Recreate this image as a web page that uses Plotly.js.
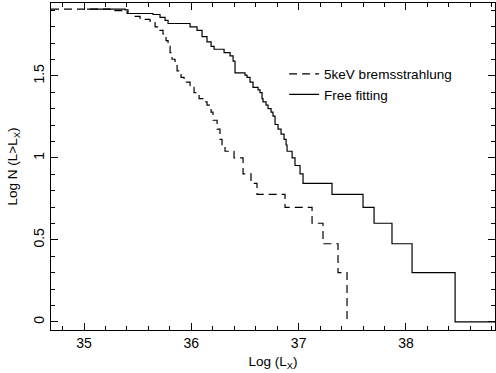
<!DOCTYPE html>
<html>
<head>
<meta charset="utf-8">
<script src="https://cdn.plot.ly/plotly-3.0.1.min.js"></script>
<style>html,body{margin:0;padding:0;background:#fff;}#chart{width:496px;height:373px;}</style>
</head>
<body>
<div id="chart"></div>
<script>
// Series 1: 5keV bremsstrahlung  (left edge of each step in Log L_X, level Log N(>L_X))
const bremLogL = [34.692, 35.242, 35.401, 35.457, 35.522, 35.615, 35.662, 35.708, 35.736, 35.764,
  35.783, 35.802, 35.820, 35.848, 35.867, 35.904, 35.932, 35.988, 36.025, 36.072,
  36.118, 36.146, 36.184, 36.202, 36.240, 36.267, 36.286, 36.314, 36.398, 36.482,
  36.556, 36.612, 36.873, 37.125, 37.227, 37.367, 37.451];
const bremLogN = [1.908, 1.898, 1.881, 1.863, 1.845, 1.826, 1.799, 1.778, 1.756, 1.716,
  1.681, 1.643, 1.602, 1.568, 1.531, 1.491, 1.462, 1.431, 1.398, 1.362,
  1.342, 1.322, 1.279, 1.230, 1.176, 1.114, 1.079, 1.041, 1.000, 0.903,
  0.845, 0.778, 0.699, 0.602, 0.477, 0.301, 0.000];

// Series 2: Free fitting
const freeLogL = [35.028, 35.382, 35.410, 35.643, 35.708, 35.755, 35.783, 35.988, 36.053, 36.100,
  36.146, 36.184, 36.212, 36.305, 36.361, 36.389, 36.407, 36.500, 36.519, 36.547,
  36.575, 36.622, 36.640, 36.659, 36.668, 36.696, 36.715, 36.743, 36.761, 36.780,
  36.808, 36.836, 36.864, 36.883, 36.892, 36.939, 36.966, 37.013, 37.041, 37.311,
  37.600, 37.703, 37.870, 38.057, 38.458, 38.900];
const freeLogN = [1.908, 1.903, 1.881, 1.875, 1.857, 1.839, 1.820, 1.799, 1.778, 1.740,
  1.708, 1.681, 1.663, 1.643, 1.623, 1.591, 1.519, 1.505, 1.491, 1.462,
  1.431, 1.415, 1.398, 1.362, 1.342, 1.322, 1.301, 1.279, 1.255, 1.204,
  1.176, 1.146, 1.114, 1.079, 1.041, 1.000, 0.954, 0.903, 0.845, 0.778,
  0.699, 0.602, 0.477, 0.301, 0.000, 0.000];

const seriesNames = ['5keV bremsstrahlung', 'Free fitting'];
const xTickVals = [35, 36, 37, 38];
const xTickText = ['35', '36', '37', '38'];
const yTickVals = [0, 0.5, 1, 1.5];
const yTickText = ['0', '0.5', '1', '1.5'];

const FONT = 'Liberation Sans, Arial, Helvetica, sans-serif';

const traces = [
  {x: bremLogL, y: bremLogN, name: seriesNames[0], type: 'scatter', mode: 'lines',
   line: {shape: 'hv', color: '#000', width: 1.2, dash: '8px,5px'}},
  {x: freeLogL, y: freeLogN, name: seriesNames[1], type: 'scatter', mode: 'lines',
   line: {shape: 'hv', color: '#000', width: 1.2}}
];

const axisCommon = {
  showline: true, linecolor: '#000', linewidth: 1, mirror: 'allticks',
  ticks: 'inside', ticklen: 7, tickwidth: 1, tickcolor: '#000',
  showgrid: false, zeroline: false,
  tickfont: {family: FONT, size: 14, color: '#000'}
};

const layout = {
  width: 496, height: 373,
  margin: {l: 51, r: 1, t: 3, b: 43, pad: 0},
  paper_bgcolor: '#fff', plot_bgcolor: '#fff',
  font: {family: FONT, size: 13, color: '#000'},
  xaxis: Object.assign({}, axisCommon, {
    range: [34.692, 38.83],
    tickmode: 'array', tickvals: xTickVals, ticktext: xTickText,
    minor: {dtick: 0.2, tick0: 35, ticks: 'inside', ticklen: 4, tickcolor: '#000', tickwidth: 1, showgrid: false},
    title: {text: 'Log (L<sub>X</sub>)', font: {family: FONT, size: 13.5, color: '#000'}, standoff: 6}
  }),
  yaxis: Object.assign({}, axisCommon, {
    range: [-0.049, 1.945],
    tickmode: 'array', tickvals: yTickVals, ticktext: yTickText,
    tickangle: -90,
    minor: {dtick: 0.1, tick0: 0, ticks: 'inside', ticklen: 4, tickcolor: '#000', tickwidth: 1, showgrid: false},
    title: {text: 'Log N (L>L<sub>X</sub>)', font: {family: FONT, size: 13.5, color: '#000'}, standoff: 10}
  }),
  showlegend: true,
  legend: {x: 0.525, y: 0.83, xanchor: 'left', yanchor: 'top', bgcolor: 'rgba(0,0,0,0)',
           font: {family: FONT, size: 13.5, color: '#000'}, itemwidth: 30, tracegroupgap: 0}
};

Plotly.newPlot('chart', traces, layout, {displayModeBar: false, staticPlot: true});
</script>
</body>
</html>
